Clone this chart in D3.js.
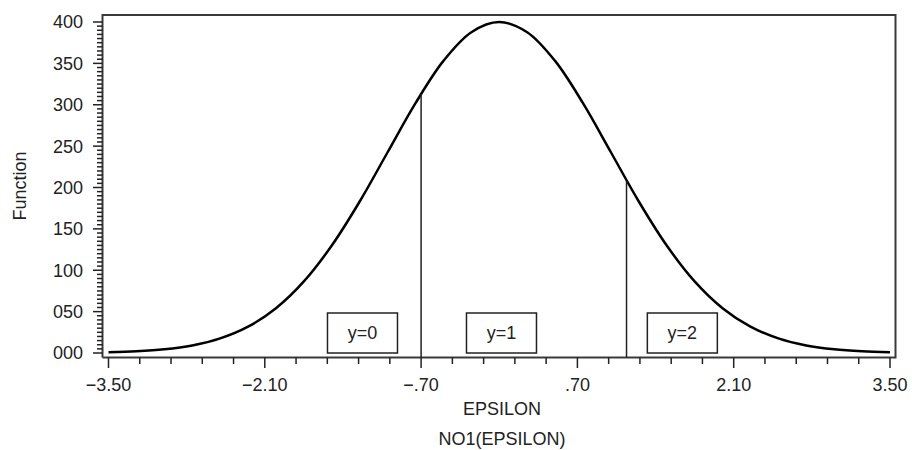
<!DOCTYPE html>
<html><head><meta charset="utf-8">
<script src="https://cdn.jsdelivr.net/npm/d3@7"></script>
<style>body{margin:0;background:#fff}svg{display:block;font-family:"Liberation Sans",Arial,sans-serif}</style>
</head><body><svg id="c" width="912" height="450"></svg>
<script>
// curve values
const epsilon = [-3.5,-3.25,-3,-2.75,-2.5,-2.25,-2,-1.75,-1.5,-1.25,-1,-0.75,-0.5,-0.25,0,0.25,0.5,0.75,1,1.25,1.5,1.75,2,2.25,2.5,2.75,3,3.25,3.5];
const func = [0.9,2.0,4.4,9.1,17.6,31.8,54.1,86.5,129.9,183.1,242.6,301.9,353.0,387.7,400,387.7,353.0,301.9,242.6,183.1,129.9,86.5,54.1,31.8,17.6,9.1,4.4,2.0,0.9];
const cutpoints = [-0.70, 1.14];
const cutValues = [313, 208];
const boxLabels = ["y=0","y=1","y=2"];
const boxCenters = [-1.225, 0.02, 1.64];
const xTicks = [-3.5,-2.1,-0.7,0.7,2.1,3.5];
const xTickLabels = ["\u22123.50","\u22122.10","\u2212.70",".70","2.10","3.50"];
const yTicks = [0,50,100,150,200,250,300,350,400];
const yTickLabels = ["000","050","100","150","200","250","300","350","400"];

const svg = d3.select("#c");
const x = d3.scaleLinear().domain([-3.5,3.5]).range([108.5,890]);
const y = d3.scaleLinear().domain([0,400]).range([353,22]);
const L=102.5, R=895.5, T=15, B=357.5;
const FS=18, TC="#222";

// frame
svg.append("path").attr("d",`M${L},${B}V${T}H${R}V${B}H${L}`).attr("fill","none").attr("stroke","#3a3a3a").attr("stroke-width",2);

// y ticks
const yMinor = d3.range(0,401,5);
svg.append("g").selectAll("line").data(yMinor).join("line")
  .attr("x1",d=>d%50===0?93:97).attr("x2",L).attr("y1",d=>y(d)).attr("y2",d=>y(d))
  .attr("stroke",TC).attr("stroke-width",1.5);
svg.append("g").selectAll("text").data(yTicks).join("text")
  .attr("x",83).attr("y",d=>y(d)).attr("dy","0.36em").attr("text-anchor","end")
  .attr("font-size",FS).attr("fill",TC).text((d,i)=>yTickLabels[i]);

// x ticks
const xMinor = d3.range(0,26).map(i=>-3.5+i*0.28);
svg.append("g").selectAll("line").data(xMinor).join("line")
  .attr("x1",d=>x(d)).attr("x2",d=>x(d)).attr("y1",B).attr("y2",(d,i)=>i%5===0?368:364)
  .attr("stroke",TC).attr("stroke-width",1.5);
svg.append("g").selectAll("text").data(xTicks).join("text")
  .attr("x",d=>x(d)).attr("y",391).attr("text-anchor","middle")
  .attr("font-size",FS).attr("fill",TC).text((d,i)=>xTickLabels[i]);

// axis titles
svg.append("text").attr("transform","translate(26,186) rotate(-90)").attr("text-anchor","middle")
  .attr("font-size",FS).attr("fill",TC).text("Function");
svg.append("text").attr("x",502).attr("y",415).attr("text-anchor","middle")
  .attr("font-size",FS).attr("fill",TC).text("EPSILON");
svg.append("text").attr("x",502).attr("y",445).attr("text-anchor","middle")
  .attr("font-size",FS).attr("fill",TC).text("NO1(EPSILON)");

// curve
const pts = epsilon.map((e,i)=>[e,func[i]]);
svg.append("path").datum(pts)
  .attr("d",d3.line().x(d=>x(d[0])).y(d=>y(d[1])).curve(d3.curveCatmullRom.alpha(0.5)))
  .attr("fill","none").attr("stroke","#000").attr("stroke-width",2.5);

// cut lines
svg.append("g").selectAll("line").data(cutpoints).join("line")
  .attr("x1",d=>x(d)).attr("x2",d=>x(d)).attr("y1",B).attr("y2",(d,i)=>y(cutValues[i]))
  .attr("stroke",TC).attr("stroke-width",1.5);

// boxes
const bw=70, bh=40;
const g = svg.append("g").selectAll("g").data(boxLabels).join("g")
  .attr("transform",(d,i)=>`translate(${x(boxCenters[i])},${y(0)})`);
g.append("rect").attr("x",-bw/2).attr("y",-bh).attr("width",bw).attr("height",bh)
  .attr("fill","#fff").attr("stroke",TC).attr("stroke-width",1.5);
g.append("text").attr("y",-bh/2).attr("dy","0.36em").attr("text-anchor","middle")
  .attr("font-size",FS).attr("fill",TC).text(d=>d);
</script></body></html>
